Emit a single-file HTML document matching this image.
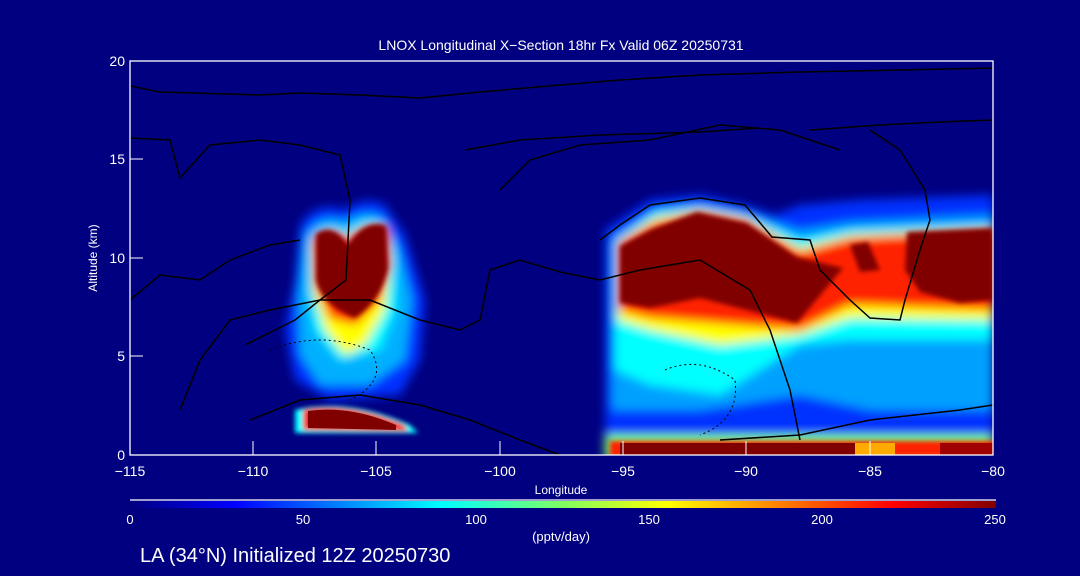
<!DOCTYPE html>
<html><head><style>
html,body{margin:0;padding:0;background:#000080;}
svg{display:block}
text{font-family:"Liberation Sans",sans-serif;fill:#fff}
</style></head><body>
<svg width="1080" height="576" viewBox="0 0 1080 576">
<defs>
<filter id="bl" x="-20%" y="-20%" width="140%" height="140%"><feGaussianBlur stdDeviation="5"/></filter>
<filter id="bs" x="-20%" y="-20%" width="140%" height="140%"><feGaussianBlur stdDeviation="2.5"/></filter>
<clipPath id="pc"><rect x="130" y="61" width="863" height="394"/></clipPath>
<linearGradient id="cb" x1="0" x2="1">
<stop offset="0" stop-color="#000080"/><stop offset="0.12" stop-color="#0000ff"/><stop offset="0.36" stop-color="#00ffff"/><stop offset="0.5" stop-color="#80ff60"/><stop offset="0.62" stop-color="#ffff00"/><stop offset="0.75" stop-color="#ff8000"/><stop offset="0.88" stop-color="#ff0000"/><stop offset="1" stop-color="#800000"/>
</linearGradient>
</defs>
<g clip-path="url(#pc)">
<g filter="url(#bl)">
<!-- west storm -->
<path d="M300 225 Q315 200 345 210 Q365 195 385 205 L405 235 L425 300 L420 360 L400 395 L330 400 L295 380 L285 330 L295 280 Z" fill="#0030ff"/>
<path d="M305 235 Q320 212 345 222 Q365 208 383 218 L398 245 L412 300 L405 360 L370 385 L320 385 L300 355 L298 300 Z" fill="#00b0ff"/>
<path d="M310 240 Q325 220 347 232 Q365 215 385 225 L395 255 L395 310 L380 350 L340 360 L315 330 L310 290 Z" fill="#00ffff"/>
<path d="M312 242 Q328 225 347 238 Q366 220 386 228 L390 265 L385 310 L365 345 L345 355 L325 330 L313 290 Z" fill="#ffff00"/>
<path d="M313 238 Q330 224 348 238 Q366 220 388 228 L391 265 L380 300 L355 325 L330 318 L315 285 Z" fill="#ff2000"/>
<!-- east -->
<path d="M605 230 L650 200 L700 195 L745 205 L775 215 L800 205 L860 200 L993 195 L993 440 L605 440 Z" fill="#0030ff"/>
<path d="M612 240 L655 210 L700 205 L745 213 L800 230 L850 222 L993 215 L993 410 L870 410 L800 395 L700 410 L612 410 Z" fill="#00a0ff"/>
<path d="M615 240 L655 212 L700 207 L745 215 L800 240 L850 230 L993 225 L993 340 L850 340 L800 345 L720 395 L650 385 L615 370 Z" fill="#00ffff"/>
<path d="M618 242 L655 218 L700 210 L745 218 L800 248 L850 235 L993 228 L993 320 L850 318 L800 335 L720 345 L650 330 L618 320 Z" fill="#ffff00"/>
<path d="M618 243 L655 222 L700 212 L745 220 L800 252 L850 238 L993 230 L993 310 L850 305 L800 330 L650 318 L618 310 Z" fill="#ff2000"/>
<path d="M605 435 L993 435 L993 460 L605 460 Z" fill="#80ff60"/>
</g>
<g filter="url(#bs)">
<path d="M316 234 Q333 222 348 245 Q365 218 386 226 L388 268 Q382 300 355 318 Q322 305 316 280 Z" fill="#800000"/>
<path d="M620 246 L650 230 L697 212 L747 223 L797 257 L843 268 L797 323 L700 298 L650 308 L620 303 Z" fill="#800000"/>
<path d="M850 245 L868 242 L880 270 L860 272 Z" fill="#800000"/>
<path d="M907 232 L993 228 L993 300 L960 303 L920 292 L905 270 Z" fill="#800000"/>
<path d="M295 410 Q350 398 410 425 L418 433 L295 433 Z" fill="#00ffff"/>
<path d="M303 410 Q350 402 404 425 L408 431 L303 430 Z" fill="#ff2000"/>
<rect x="610" y="441" width="390" height="16" fill="#ff2000"/>
</g>
<path d="M308 411 Q350 405 396 425 L396 430 L308 428 Z" fill="#800000"/>
<rect x="620" y="443" width="240" height="12" fill="#800000"/>
<rect x="855" y="443" width="40" height="12" fill="#ffaa00"/>
<rect x="940" y="443" width="53" height="12" fill="#a00000"/>
<!-- contours -->
<g fill="none" stroke="#000" stroke-width="1.5">
<path d="M130 86 L160 92 L260 95 L300 93 L360 95 L420 98 L480 92 L560 85 L620 80 L700 75 L800 72 L900 70 L993 68"/>
<path d="M130 138 L170 140 L180 178 L210 145 L260 140 L300 145 L340 155 L350 200 L348 240 L346 280 L320 300 L295 320 L265 335 L245 345"/>
<path d="M130 300 L160 275 L200 280 L230 260 L270 245 L300 240"/>
<path d="M180 410 L200 360 L230 320 L270 310 L320 300 L370 300 L420 320 L460 330 L480 320 L490 270 L520 260 L560 272 L600 280 L640 270 L700 260 L750 290 L770 330 L790 390 L800 440"/>
<path d="M600 240 L620 225 L650 205 L700 198 L745 205 L772 237 L810 240 L820 270 L850 300 L870 318 L900 320 L905 300 L920 250 L930 220 L925 190 L900 150 L870 130"/>
<path d="M500 190 L530 160 L580 145 L650 140 L720 125 L780 130 L840 150"/>
<path d="M465 150 L520 140 L600 135 L700 132 L760 128"/>
<path d="M250 420 L300 400 L360 395 L420 405 L470 420 L520 440 L560 455"/>
<path d="M720 440 L800 435 L870 420 L960 410 L993 405"/>
<path d="M810 130 L880 125 L940 122 L993 120"/>
</g>
<g fill="none" stroke="#000" stroke-width="1" stroke-dasharray="2,3">
<path d="M270 350 Q320 330 370 350 Q390 380 350 400"/>
<path d="M665 370 Q700 355 735 380 Q740 420 700 435"/>
</g>
</g>
<rect x="130" y="61" width="863" height="394" fill="none" stroke="#fff" stroke-width="1.3"/>
<g stroke="#fff" stroke-width="1">
<line x1="130" y1="455" x2="130" y2="441"/><line x1="253" y1="455" x2="253" y2="441"/><line x1="376" y1="455" x2="376" y2="441"/><line x1="500" y1="455" x2="500" y2="441"/><line x1="623" y1="455" x2="623" y2="441"/><line x1="746" y1="455" x2="746" y2="441"/><line x1="870" y1="455" x2="870" y2="441"/><line x1="993" y1="455" x2="993" y2="441"/>
<line x1="130" y1="159" x2="143" y2="159"/><line x1="130" y1="258" x2="143" y2="258"/><line x1="130" y1="356" x2="143" y2="356"/>
</g>
<g font-size="14" text-anchor="middle">
<text x="130" y="476">−115</text><text x="253" y="476">−110</text><text x="376" y="476">−105</text><text x="500" y="476">−100</text><text x="623" y="476">−95</text><text x="746" y="476">−90</text><text x="870" y="476">−85</text><text x="993" y="476">−80</text>
</g>
<g font-size="14" text-anchor="end">
<text x="125" y="66">20</text><text x="125" y="164">15</text><text x="125" y="263">10</text><text x="125" y="361">5</text><text x="125" y="460">0</text>
</g>
<text x="561" y="494" font-size="12" text-anchor="middle">Longitude</text>
<text x="97" y="258" font-size="12" text-anchor="middle" transform="rotate(-90 97 258)">Altitude (km)</text>
<text x="561" y="50" font-size="14" text-anchor="middle">LNOX Longitudinal X−Section 18hr  Fx Valid 06Z 20250731</text>
<line x1="130" y1="500" x2="996" y2="500" stroke="#fff" stroke-width="1.3"/>
<rect x="130" y="501" width="866" height="7" fill="url(#cb)"/>
<g font-size="13" text-anchor="middle">
<text x="130" y="524">0</text><text x="303" y="524">50</text><text x="476" y="524">100</text><text x="649" y="524">150</text><text x="822" y="524">200</text><text x="995" y="524">250</text>
</g>
<text x="561" y="541" font-size="13" text-anchor="middle">(pptv/day)</text>
<text x="140" y="562" font-size="20">LA (34°N) Initialized 12Z 20250730</text>
</svg>
</body></html>
